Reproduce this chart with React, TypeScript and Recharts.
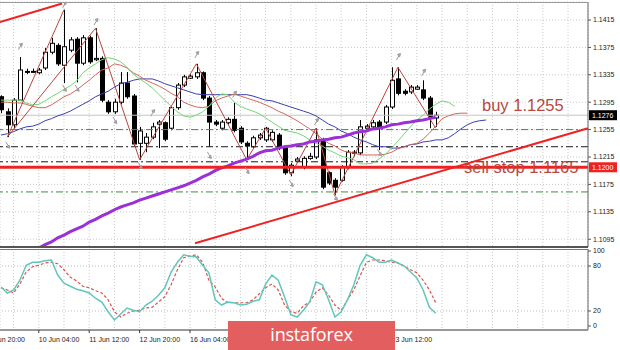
import React from 'react';
import {
  ComposedChart,
  Line,
  Bar,
  Scatter,
  XAxis,
  YAxis,
  CartesianGrid,
  ReferenceLine,
  ReferenceDot,
} from 'recharts';

// ---------- candles (H4 bars, index 0..69) ----------
const candleOpen = [
  1.1303, 1.1281, 1.1262, 1.1298, 1.134, 1.1339, 1.1338, 1.1345, 1.1368, 1.1378,
  1.1349, 1.1371, 1.1387, 1.1352, 1.1389, 1.1357, 1.1359, 1.1295, 1.1281, 1.1295,
  1.1323, 1.1304, 1.1235, 1.1235, 1.1244, 1.1263, 1.1265, 1.1257, 1.1287, 1.132,
  1.133, 1.1332, 1.1338, 1.1301, 1.1266, 1.1257, 1.1265, 1.127, 1.1257, 1.1235,
  1.123, 1.1243, 1.124, 1.124, 1.1247, 1.1228, 1.1192, 1.1209, 1.12, 1.1213,
  1.1215, 1.124, 1.1192, 1.1181, 1.1181, 1.12, 1.1222, 1.1221, 1.1257, 1.1259,
  1.1266, 1.1266, 1.1288, 1.1329, 1.1311, 1.131, 1.1314, 1.1313, 1.1301, 1.1272,
];
const candleHigh = [
  1.1305, 1.1286, 1.1301, 1.1361, 1.1344, 1.1344, 1.1345, 1.1374, 1.1389, 1.1381,
  1.143, 1.139, 1.139, 1.1393, 1.1392, 1.1403, 1.1362, 1.1298, 1.13, 1.1339,
  1.1339, 1.1307, 1.1259, 1.125, 1.1265, 1.1269, 1.1267, 1.1289, 1.1323, 1.1335,
  1.1336, 1.1351, 1.134, 1.1304, 1.1269, 1.1269, 1.1273, 1.1294, 1.126, 1.1238,
  1.1246, 1.125, 1.1259, 1.1254, 1.125, 1.1231, 1.1206, 1.1215, 1.1216, 1.1221,
  1.1257, 1.1243, 1.1194, 1.1184, 1.1203, 1.1225, 1.1225, 1.1269, 1.1263, 1.1269,
  1.1269, 1.1291, 1.1346, 1.1346, 1.1314, 1.132, 1.132, 1.1327, 1.1304, 1.1281,
];
const candleLow = [
  1.1279, 1.1244, 1.1257, 1.1297, 1.1336, 1.1338, 1.1336, 1.1342, 1.1365, 1.1348,
  1.1323, 1.1368, 1.1324, 1.1349, 1.1351, 1.1355, 1.1295, 1.1278, 1.1278, 1.1292,
  1.13, 1.1231, 1.1211, 1.1222, 1.1241, 1.1228, 1.1238, 1.1254, 1.1284, 1.1317,
  1.1329, 1.1329, 1.1298, 1.123, 1.126, 1.1254, 1.1262, 1.1251, 1.1234, 1.1211,
  1.1227, 1.124, 1.1237, 1.1237, 1.1225, 1.1189, 1.1187, 1.1206, 1.1197, 1.1211,
  1.1212, 1.1168, 1.1174, 1.1159, 1.1179, 1.1197, 1.1216, 1.1218, 1.1256, 1.1256,
  1.1225, 1.1263, 1.1285, 1.1305, 1.1305, 1.1307, 1.1313, 1.1298, 1.1257, 1.1259,
];
const candleClose = [
  1.1284, 1.1262, 1.1298, 1.1342, 1.1339, 1.134, 1.1342, 1.1368, 1.1381, 1.1351,
  1.1376, 1.1386, 1.1352, 1.1389, 1.1354, 1.1359, 1.1298, 1.1281, 1.1295, 1.1323,
  1.1303, 1.1234, 1.1253, 1.1244, 1.1259, 1.1266, 1.1241, 1.1287, 1.132, 1.1332,
  1.1333, 1.1338, 1.1301, 1.1266, 1.1263, 1.1266, 1.127, 1.1254, 1.1237, 1.1231,
  1.1243, 1.1247, 1.1257, 1.1251, 1.1228, 1.1192, 1.1203, 1.1212, 1.1213, 1.1216,
  1.124, 1.1171, 1.1177, 1.1171, 1.12, 1.1222, 1.1221, 1.1259, 1.126, 1.1265,
  1.1259, 1.1288, 1.1327, 1.1308, 1.1308, 1.1317, 1.1317, 1.1301, 1.1273, 1.1276,
];

// ---------- Alligator lines (shifted into the future) ----------
const lips = [
  1.1298, 1.1298, 1.1298, 1.1298, 1.1294, 1.1291, 1.1292, 1.1297, 1.1303, 1.1308,
  1.1314, 1.1319, 1.1326, 1.1338, 1.1345, 1.1351, 1.1357, 1.136, 1.1358, 1.1354,
  1.1346, 1.1336, 1.1329, 1.1323, 1.1316, 1.1307, 1.1298, 1.1289, 1.1281, 1.1275,
  1.1273, 1.1276, 1.1281, 1.1289, 1.1301, 1.1307, 1.1306, 1.1295, 1.1289, 1.1285,
  1.1282, 1.1278, 1.1272, 1.1266, 1.126, 1.1254, 1.1252, 1.125, 1.1246, 1.124,
  1.1235, 1.1231, 1.1225, 1.1221, 1.1216, 1.1214, 1.1211, 1.1205, 1.1205, 1.1206,
  1.1212, 1.1219, 1.1228, 1.1238, 1.1249, 1.1259, 1.1269, 1.1276, 1.1285, 1.1292,
  1.1297, 1.1295, 1.1289,
];
const teeth = [
  1.1295, 1.1295, 1.1294, 1.1294, 1.1292, 1.1289, 1.1287, 1.1287, 1.1291, 1.1297,
  1.1303, 1.1307, 1.1313, 1.132, 1.1327, 1.1335, 1.1342, 1.1345, 1.1351, 1.1349,
  1.1345, 1.1338, 1.1333, 1.1327, 1.1323, 1.1319, 1.1314, 1.1308, 1.1303, 1.1295,
  1.1291, 1.1288, 1.1287, 1.1289, 1.1297, 1.1301, 1.1304, 1.1307, 1.1304, 1.1301,
  1.1298, 1.1295, 1.1291, 1.1287, 1.1282, 1.1278, 1.1273, 1.1268, 1.1262, 1.1256,
  1.1249, 1.1241, 1.1235, 1.1231, 1.1225, 1.1222, 1.1221, 1.1218, 1.1218, 1.1218,
  1.1218, 1.1219, 1.1222, 1.1227, 1.123, 1.1233, 1.1235, 1.1241, 1.125, 1.126,
  1.1271, 1.1275, 1.1278, 1.1279, 1.1279,
];
const jaw = [
  1.1247, 1.1249, 1.1252, 1.1256, 1.1259, 1.126, 1.1263, 1.1268, 1.1271, 1.1275,
  1.1278, 1.1282, 1.1287, 1.1292, 1.1297, 1.1303, 1.1307, 1.1311, 1.1317, 1.1322,
  1.1324, 1.1327, 1.1329, 1.1329, 1.1329, 1.1326, 1.1322, 1.1319, 1.1316, 1.1313,
  1.131, 1.1307, 1.1306, 1.1306, 1.1306, 1.1306, 1.1306, 1.1306, 1.1306, 1.1306,
  1.1304, 1.1301, 1.1298, 1.1297, 1.1294, 1.1291, 1.1288, 1.1285, 1.1282, 1.1279,
  1.1275, 1.1269, 1.1263, 1.1259, 1.1253, 1.1249, 1.1244, 1.124, 1.1237, 1.1233,
  1.123, 1.123, 1.1228, 1.1228, 1.123, 1.1233, 1.1234, 1.1237, 1.1238, 1.124,
  1.124, 1.1243, 1.1249, 1.1256, 1.1262, 1.1266, 1.1268, 1.1269,
];
// slow moving average (purple), starts at bar 6
const slowMa = [
  null, null, null, null, null, null, 1.1082, 1.1087, 1.1091, 1.1097,
  1.1101, 1.1106, 1.111, 1.1114, 1.112, 1.1124, 1.1129, 1.1133, 1.1138, 1.1142,
  1.1145, 1.1148, 1.1152, 1.1155, 1.1158, 1.1161, 1.1164, 1.1167, 1.117, 1.1173,
  1.1177, 1.1181, 1.1186, 1.119, 1.1195, 1.1199, 1.1202, 1.1206, 1.1209, 1.1212,
  1.1216, 1.1221, 1.1224, 1.1225, 1.1228, 1.123, 1.1231, 1.1233, 1.1234, 1.1237,
  1.1238, 1.124, 1.1241, 1.1243, 1.1244, 1.1247, 1.125, 1.1252, 1.1253, 1.1256,
  1.1257, 1.1259, 1.1262, 1.1263, 1.1265, 1.1266, 1.1268, 1.1269, 1.1271, 1.1273,
];

// ---------- ZigZag ----------
const zigzagIdx = [1, 15, 22, 31, 39, 42, 46, 50, 53, 63, 69];
const zigzagPrice = [1.1244, 1.1403, 1.1211, 1.1351, 1.1211, 1.1257, 1.1189, 1.1257, 1.116, 1.1346, 1.1257];
const zigzag2Idx = [1, 10];
const zigzag2Price = [1.1244, 1.143];

// ---------- Fractals ----------
const fractalUpIdx = [3, 10, 15, 24, 31, 37, 50, 63, 67];
const fractalUpPrice = [1.1376, 1.1437, 1.1412, 1.1279, 1.1364, 1.1306, 1.1266, 1.1361, 1.1338];
const fractalDownIdx = [1, 10, 12, 18, 22, 33, 39, 46, 53, 60];
const fractalDownPrice = [1.1233, 1.1316, 1.1316, 1.1269, 1.1203, 1.1218, 1.1196, 1.1177, 1.1157, 1.1222];

// ---------- Stochastic ----------
const stochMain = [
  52, 44, 48, 61, 81, 85, 85, 87, 88, 68, 57, 53, 49, 47, 44, 37, 32, 19, 8, 16,
  24, 21, 19, 28, 33, 41, 51, 72, 85, 95, 93, 92, 81, 71, 35, 28, 32, 31, 28, 29,
  33, 35, 56, 68, 61, 39, 15, 12, 21, 32, 59, 55, 35, 12, 19, 35, 55, 81, 95, 91,
  85, 85, 88, 84, 80, 72, 64, 48, 25, 17,
];
const stochSignal = [
  51, 48, 44, 56, 72, 79, 81, 84, 85, 83, 75, 65, 60, 53, 51, 47, 44, 35, 19, 12,
  17, 20, 21, 24, 25, 32, 39, 55, 75, 91, 93, 95, 85, 61, 52, 37, 31, 31, 31, 31,
  35, 43, 51, 56, 48, 28, 19, 17, 27, 32, 45, 51, 41, 28, 21, 35, 48, 67, 85, 88,
  88, 87, 85, 84, 80, 75, 71, 61, 48, 31,
];

// ---------- levels, ticks, labels ----------
const priceTicks = [1.1095, 1.1135, 1.1175, 1.1215, 1.1255, 1.1295, 1.1335, 1.1375, 1.1415];
const stochTicks = [0, 20, 80, 100];
const stochLevels = [20, 80];
const currentPrice = 1.1276;
const sellStopLine = 1.12;
const greenLevels = [1.1255, 1.1164];
const blackLevels = [1.123, 1.1208];
const upperTrend = [{ i: -0.16, p: 1.1412 }, { i: 9.7, p: 1.1439 }];
const lowerTrend = [{ i: 30.8, p: 1.1089 }, { i: 93.17, p: 1.1257 }];
const buyText = { i: 76.35, p: 1.1291, label: 'buy 1.1255' };
const sellText = { i: 73.5, p: 1.12, label: 'sell stop 1.1165' };
const timeLabelIdx = [-2, 6, 14, 22, 30, 38, 46, 54, 62];
const timeLabels = [
  '8 Jun 20:00', '10 Jun 04:00', '11 Jun 12:00', '12 Jun 20:00', '16 Jun 04:00',
  '17 Jun 12:00', '18 Jun 20:00', '22 Jun 04:00', '23 Jun 12:00',
];
const gridIdx = [-2, 2, 6, 10, 14, 18, 22, 26, 30, 34, 38, 42, 46, 50, 54, 58, 62, 66, 70, 74, 78, 82, 86, 90];

const xDomain: [number, number] = [-0.16, 93.17];
const priceDomain: [number, number] = [1.10836, 1.14413];
const stochDomain: [number, number] = [-5.33, 102.67];

// ---------- build tables ----------
const rows: any[] = [];
for (let i = 0; i < 78; i++) {
  rows.push({
    i,
    open: candleOpen[i] ?? null,
    high: candleHigh[i] ?? null,
    low: candleLow[i] ?? null,
    close: candleClose[i] ?? null,
    lips: lips[i] ?? null,
    teeth: teeth[i] ?? null,
    jaw: jaw[i] ?? null,
    ma: slowMa[i] ?? null,
    zz: null,
    zz2: null,
    fu: null,
    fd: null,
  });
}
zigzagIdx.forEach((ix, k) => (rows[ix].zz = zigzagPrice[k]));
zigzag2Idx.forEach((ix, k) => (rows[ix].zz2 = zigzag2Price[k]));
fractalUpIdx.forEach((ix, k) => (rows[ix].fu = fractalUpPrice[k]));
fractalDownIdx.forEach((ix, k) => (rows[ix].fd = fractalDownPrice[k]));

const stochRows = stochMain.map((m, i) => ({ i, k: m, d: stochSignal[i] }));

const FONT = '"Liberation Sans", Arial, sans-serif';
const TEXT_RED = '#b8473d';
const DASHDOT = '7 3 2 3';

const Candle = (props: any) => {
  const { x, y, width, height, payload } = props;
  if (!payload || payload.open == null || !isFinite(y) || !isFinite(height)) return <g />;
  const { open, high, low, close } = payload;
  const top = Math.min(y, y + height);
  const h = Math.abs(height);
  const range = high - low || 1e-9;
  const py = (v: number) => top + ((high - v) / range) * h;
  const cx = Math.round(x + width / 2) + 0.5;
  const yo = py(open);
  const yc = py(close);
  const bt = Math.min(yo, yc);
  const bh = Math.max(1, Math.abs(yc - yo));
  const bull = close >= open;
  return (
    <g>
      <line x1={cx} x2={cx} y1={top} y2={top + h} stroke="#000" strokeWidth={1} />
      <rect x={cx - 2} y={bt} width={4} height={bh} fill={bull ? '#fff' : '#000'} stroke="#000" strokeWidth={1} />
    </g>
  );
};

const Fractal = (props: any) => {
  const { cx, cy, up } = props;
  if (cx == null || cy == null || !isFinite(cx) || !isFinite(cy)) return <g />;
  return (
    <g stroke="#9a9a9a" fill="#b0b0b0" strokeWidth={1}>
      <line x1={cx - 1.5} y1={cy + (up ? 3 : -3)} x2={cx + 1.5} y2={cy + (up ? -2 : 2)} />
      <polygon
        points={
          up
            ? `${cx + 2.5},${cy - 3.5} ${cx - 0.5},${cy - 2.5} ${cx + 1.8},${cy - 0.3}`
            : `${cx + 2.5},${cy + 3.5} ${cx - 0.5},${cy + 2.5} ${cx + 1.8},${cy + 0.3}`
        }
      />
    </g>
  );
};

const PriceBox = (fill: string, text: string) => (props: any) => {
  const vb = props.viewBox || {};
  const x = (vb.x || 0) + (vb.width || 0) + 1;
  const y = vb.y || 0;
  return (
    <g>
      <rect x={x} y={y - 5} width={28} height={10} fill={fill} />
      <text x={x + 3} y={y} dy="0.35em" fontSize={7} fill="#fff" fontFamily={FONT}>
        {text}
      </text>
    </g>
  );
};

const BigText = (text: string) => (props: any) => {
  const vb = props.viewBox || {};
  return (
    <text
      x={vb.x}
      y={vb.y}
      dy="0.35em"
      fontSize={16.5}
      fill={TEXT_RED}
      fontFamily={FONT}
      textAnchor="start"
    >
      {text}
    </text>
  );
};

const TimeTick = (props: any) => {
  const { x, y, payload } = props;
  const k = timeLabelIdx.indexOf(payload.value);
  if (k < 0) return <g />;
  return (
    <g>
      <line x1={x} x2={x} y1={y} y2={y + 3} stroke="#333" />
      <text x={x} y={y + 12} fontSize={7} fill="#222" fontFamily={FONT} textAnchor="start">
        {timeLabels[k]}
      </text>
    </g>
  );
};

export default function App() {
  return (
    <div
      style={{
        position: 'absolute',
        left: 0,
        top: 0,
        width: 620,
        height: 350,
        background: '#fff',
        overflow: 'hidden',
      }}
    >
      <div style={{ position: 'absolute', left: 0, top: 0 }}>
        <ComposedChart width={620} height={250} data={rows} margin={{ top: 2, right: 0, bottom: 3, left: 0 }}>
          <CartesianGrid stroke="#c9c9c9" strokeDasharray="1 2" />
          <XAxis
            dataKey="i"
            type="number"
            domain={xDomain}
            allowDataOverflow
            ticks={gridIdx}
            interval={0}
            hide
          />
          <YAxis
            orientation="right"
            width={32}
            type="number"
            domain={priceDomain}
            allowDataOverflow
            ticks={priceTicks}
            interval={0}
            tickFormatter={(v: number) => v.toFixed(4)}
            tick={{ fontSize: 7, fill: '#222', fontFamily: FONT }}
            tickSize={3}
            tickMargin={2}
            tickLine={{ stroke: '#555' }}
            axisLine={{ stroke: '#666' }}
          />
          {greenLevels.map((p) => (
            <ReferenceLine key={'g' + p} y={p} stroke="#3f8f3f" strokeDasharray={DASHDOT} />
          ))}
          {blackLevels.map((p) => (
            <ReferenceLine key={'b' + p} y={p} stroke="#1a1a1a" strokeDasharray={DASHDOT} />
          ))}
          <ReferenceLine y={currentPrice} stroke="#c4c4c4" label={PriceBox('#000', currentPrice.toFixed(4))} />
          <Bar
            dataKey={(d: any) => (d.high != null ? [d.low, d.high] : null)}
            shape={(p: any) => <Candle {...p} />}
            barSize={5}
            isAnimationActive={false}
          />
          <Line dataKey="jaw" stroke="#3b3fae" strokeWidth={1} dot={false} isAnimationActive={false} />
          <Line dataKey="teeth" stroke="#d4675c" strokeWidth={1} dot={false} isAnimationActive={false} />
          <Line dataKey="lips" stroke="#72d672" strokeWidth={1} dot={false} isAnimationActive={false} />
          <Line dataKey="zz2" stroke="#b8463c" strokeWidth={1} dot={false} connectNulls isAnimationActive={false} />
          <Line dataKey="zz" stroke="#b8463c" strokeWidth={1} dot={false} connectNulls isAnimationActive={false} />
          <Line dataKey="ma" stroke="#9b30d9" strokeWidth={3} dot={false} isAnimationActive={false} />
          <Scatter dataKey="fu" shape={(p: any) => <Fractal {...p} up />} isAnimationActive={false} />
          <Scatter dataKey="fd" shape={(p: any) => <Fractal {...p} up={false} />} isAnimationActive={false} />
          <ReferenceDot x={buyText.i} y={buyText.p} r={0} fill="none" stroke="none" ifOverflow="visible" label={BigText(buyText.label)} />
          <ReferenceDot x={sellText.i} y={sellText.p} r={0} fill="none" stroke="none" ifOverflow="visible" label={BigText(sellText.label)} />
          <ReferenceLine y={sellStopLine} stroke="#ee2222" strokeWidth={3} label={PriceBox('#ee2222', sellStopLine.toFixed(4))} />
          <ReferenceLine
            segment={[{ x: upperTrend[0].i, y: upperTrend[0].p }, { x: upperTrend[1].i, y: upperTrend[1].p }]}
            stroke="#ee2222"
            strokeWidth={2}
            ifOverflow="visible"
          />
          <ReferenceLine
            segment={[{ x: lowerTrend[0].i, y: lowerTrend[0].p }, { x: lowerTrend[1].i, y: lowerTrend[1].p }]}
            stroke="#ee2222"
            strokeWidth={2}
            ifOverflow="visible"
          />
        </ComposedChart>
      </div>
      <div style={{ position: 'absolute', left: 0, top: 247 }}>
        <ComposedChart width={620} height={103} data={stochRows} margin={{ top: 2, right: 0, bottom: 0, left: 0 }}>
          <CartesianGrid stroke="#c9c9c9" strokeDasharray="1 2" horizontal={false} />
          <XAxis
            dataKey="i"
            type="number"
            domain={xDomain}
            allowDataOverflow
            ticks={gridIdx}
            interval={0}
            height={20}
            tickLine={false}
            axisLine={{ stroke: '#333' }}
            tickSize={0}
            tickMargin={0}
            tick={(p: any) => <TimeTick {...p} />}
          />
          <YAxis
            orientation="right"
            width={32}
            type="number"
            domain={stochDomain}
            allowDataOverflow
            ticks={stochTicks}
            interval={0}
            tick={{ fontSize: 7, fill: '#222', fontFamily: FONT }}
            tickSize={3}
            tickMargin={2}
            tickLine={{ stroke: '#555' }}
            axisLine={{ stroke: '#666' }}
          />
          {stochLevels.map((v) => (
            <ReferenceLine key={'s' + v} y={v} stroke="#bdbdbd" strokeDasharray="1 2" />
          ))}
          <Line dataKey="d" stroke="#d9534f" strokeWidth={1.2} strokeDasharray="3 2" dot={false} isAnimationActive={false} />
          <Line dataKey="k" stroke="#62c6ba" strokeWidth={1.5} dot={false} isAnimationActive={false} />
        </ComposedChart>
      </div>
      {/* panel frames */}
      <div style={{ position: 'absolute', left: 0, top: 2, width: 588, height: 1, background: '#9a9a9a' }} />
      <div style={{ position: 'absolute', left: 0, top: 246, width: 588, height: 2, background: '#555' }} />
      <div style={{ position: 'absolute', left: 0, top: 249, width: 588, height: 1, background: '#777' }} />
      {/* watermark */}
      <div
        style={{
          position: 'absolute',
          left: 228,
          top: 321,
          width: 167,
          height: 29,
          background: '#e35f5f',
          color: '#fff',
          fontFamily: '"Open Sans", sans-serif',
          fontSize: 18,
          lineHeight: '27px',
          textAlign: 'center',
          letterSpacing: -0.2,
        }}
      >
        instaforex
      </div>
    </div>
  );
}
